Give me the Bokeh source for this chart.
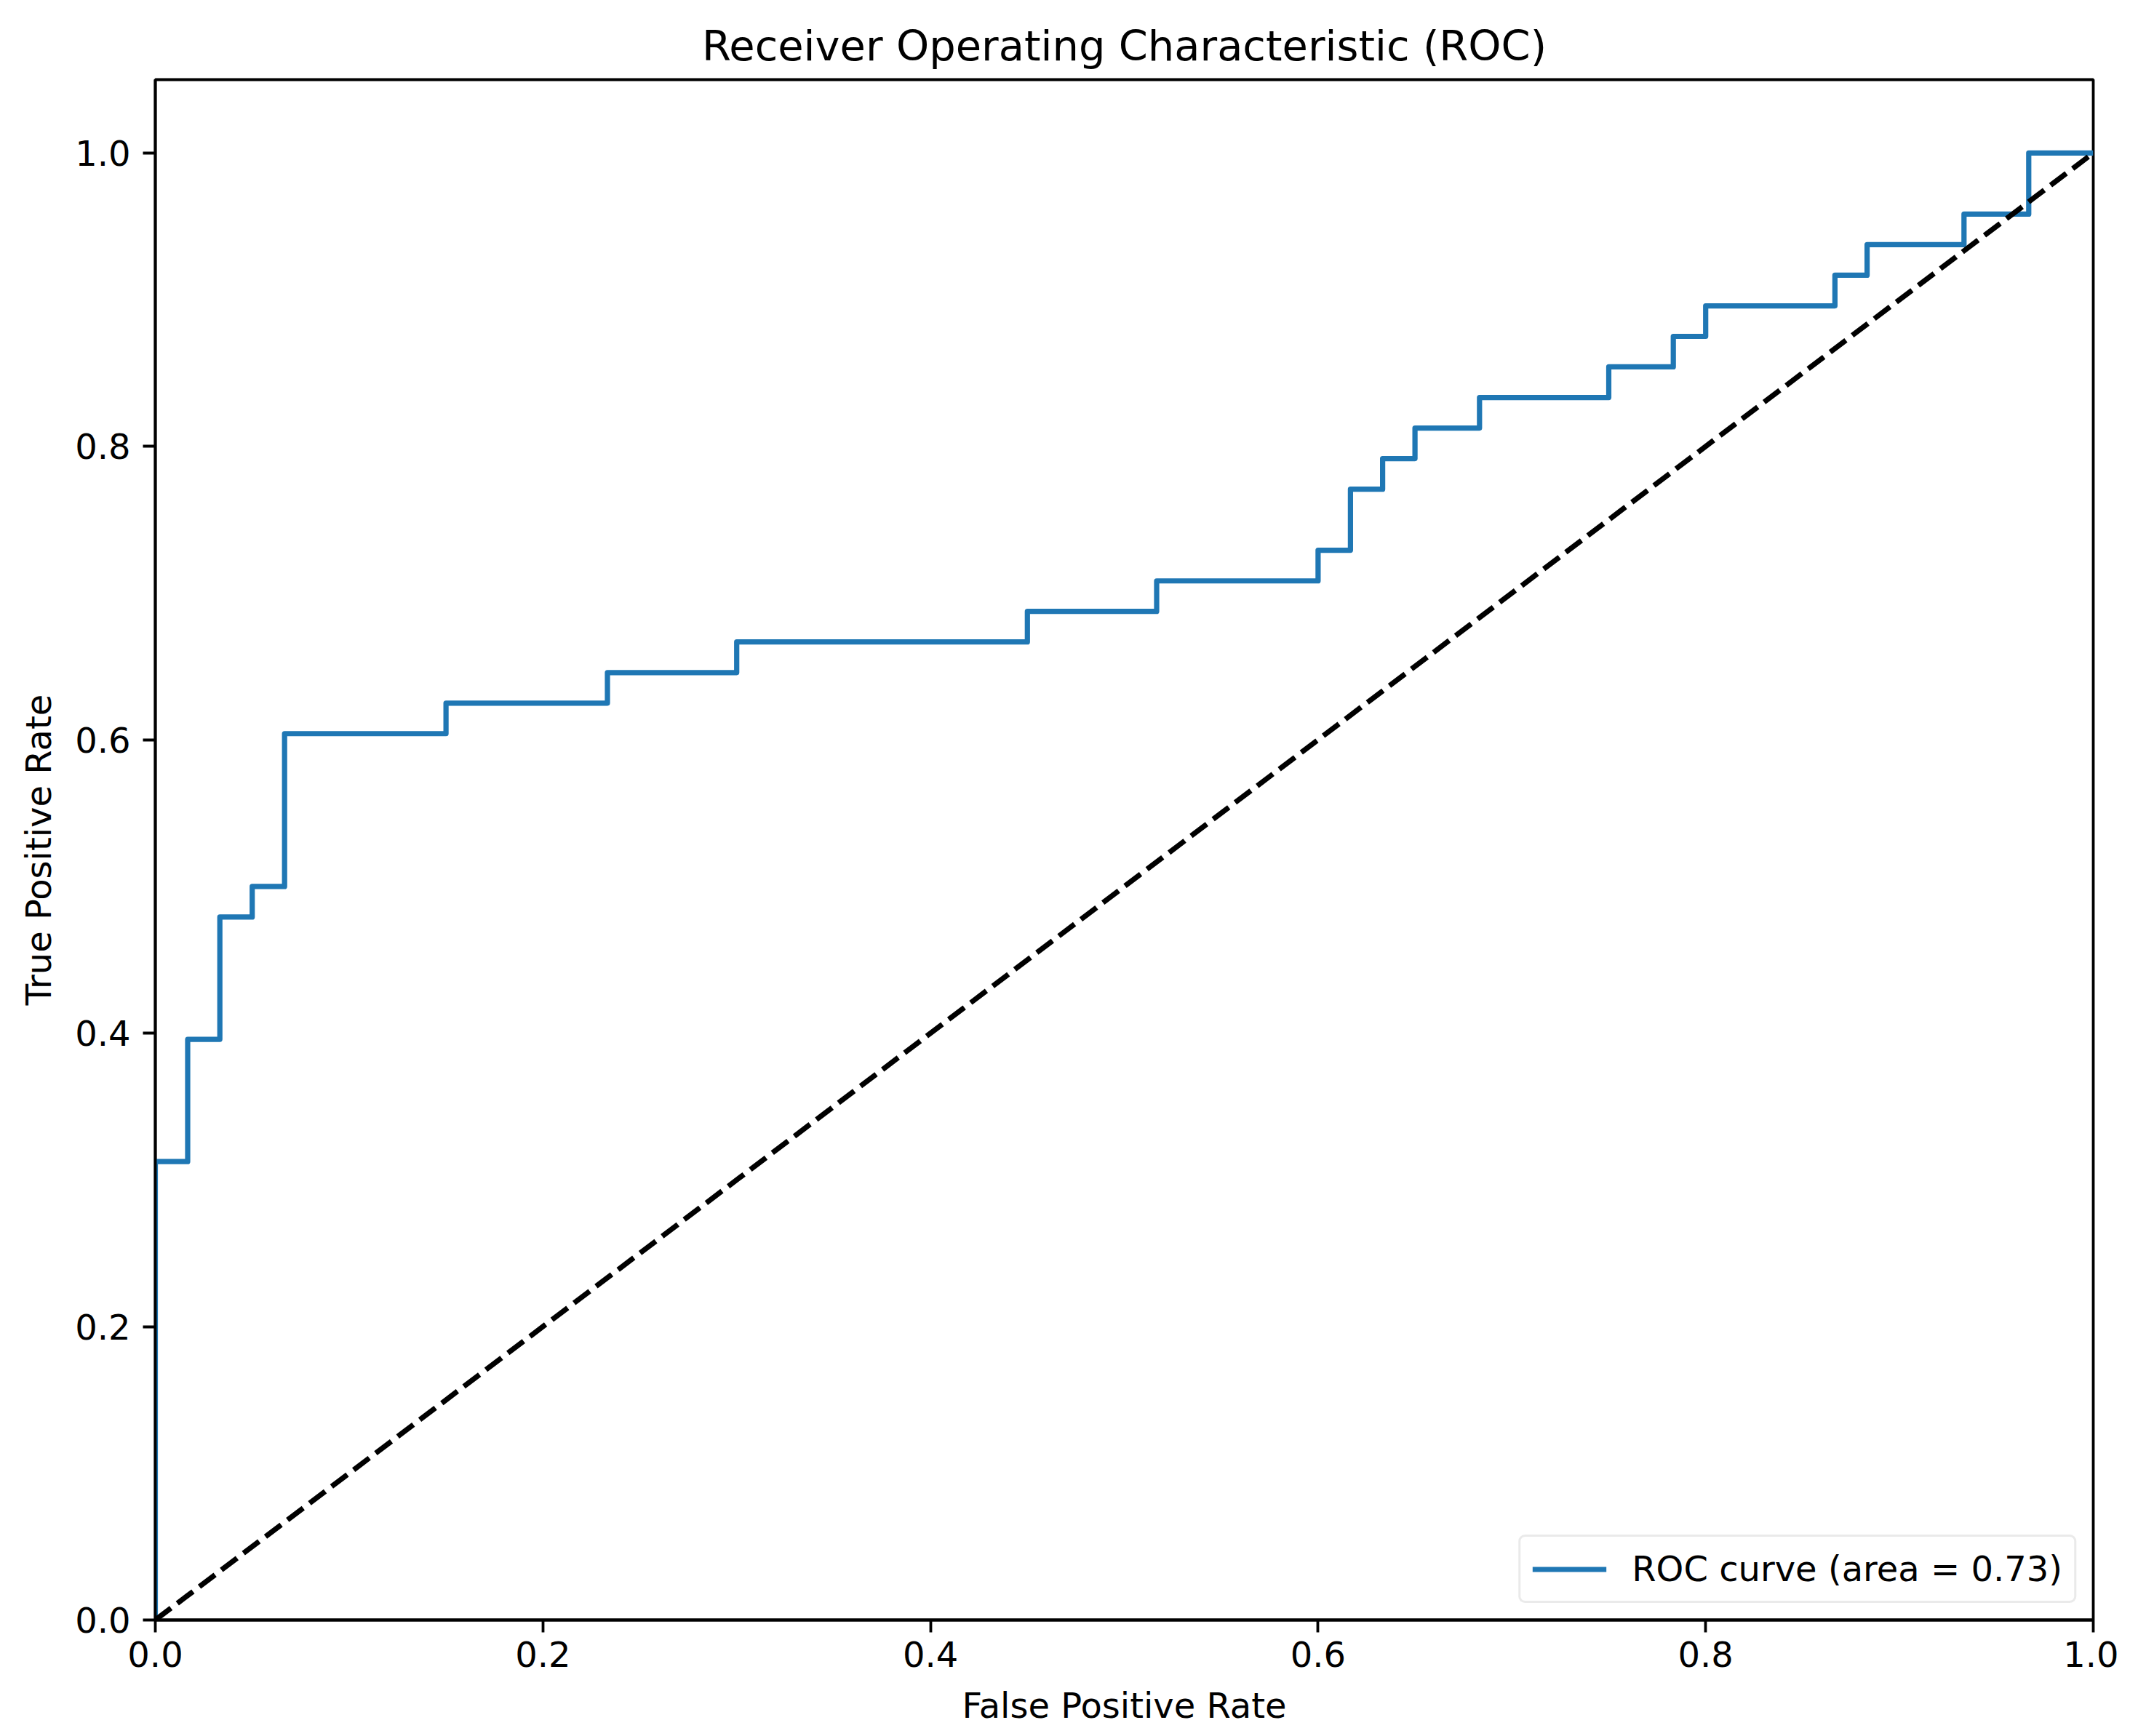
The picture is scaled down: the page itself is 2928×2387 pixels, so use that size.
import numpy as np
from bokeh.plotting import figure
from bokeh.models import Range1d, FixedTicker, PrintfTickFormatter, Legend, LegendItem
from bokeh.embed import file_html
from bokeh.resources import INLINE

# ROC curve vertices (false positive rate, true positive rate)
fpr = [0.0, 0.0, 0.0167, 0.0167, 0.0333, 0.0333, 0.05, 0.05, 0.0667, 0.0667,
       0.15, 0.15, 0.2333, 0.2333, 0.3, 0.3, 0.45, 0.45, 0.5167, 0.5167,
       0.6, 0.6, 0.6167, 0.6167, 0.6333, 0.6333, 0.65, 0.65, 0.6833, 0.6833,
       0.75, 0.75, 0.7833, 0.7833, 0.8, 0.8, 0.8667, 0.8667, 0.8833, 0.8833,
       0.9333, 0.9333, 0.9667, 0.9667, 1.0]
tpr = [0.0, 0.3125, 0.3125, 0.3958, 0.3958, 0.4792, 0.4792, 0.5, 0.5, 0.6042,
       0.6042, 0.625, 0.625, 0.6458, 0.6458, 0.6667, 0.6667, 0.6875, 0.6875, 0.7083,
       0.7083, 0.7292, 0.7292, 0.7708, 0.7708, 0.7917, 0.7917, 0.8125, 0.8125, 0.8333,
       0.8333, 0.8542, 0.8542, 0.875, 0.875, 0.8958, 0.8958, 0.9167, 0.9167, 0.9375,
       0.9375, 0.9583, 0.9583, 1.0, 1.0]
chance_x = [0.0, 1.0]
chance_y = [0.0, 1.0]
x_ticks = [0.0, 0.2, 0.4, 0.6, 0.8, 1.0]
y_ticks = [0.0, 0.2, 0.4, 0.6, 0.8, 1.0]
roc_auc = float(np.trapezoid(tpr, fpr))

FONT = "DejaVu Sans"
TICK_PX = "48px"

p = figure(
    width=2912, height=2371,
    output_backend="svg", toolbar_location=None,
    x_range=Range1d(0, 1), y_range=Range1d(0, 1.05),
    min_border_left=213, min_border_right=35,
    min_border_top=109, min_border_bottom=144,
    title="Receiver Operating Characteristic (ROC)",
)
p.frame_width = 2664
p.frame_height = 2118

p.title.align = "center"
p.title.text_font = FONT
p.title.text_font_size = "57.5px"
p.title.text_font_style = "normal"
p.title.text_color = "black"
p.title.standoff = 26

p.xgrid.visible = False
p.ygrid.visible = False
p.background_fill_color = "white"
p.border_fill_color = "white"
p.outline_line_color = "black"
p.outline_line_width = 3.8

for ax, lab, ticks in ((p.xaxis[0], "False Positive Rate", x_ticks),
                       (p.yaxis[0], "True Positive Rate", y_ticks)):
    ax.ticker = FixedTicker(ticks=ticks)
    ax.formatter = PrintfTickFormatter(format="%.1f")
    ax.axis_label = lab
    ax.axis_label_text_font = FONT
    ax.axis_label_text_font_size = TICK_PX
    ax.axis_label_text_font_style = "normal"
    ax.axis_label_text_color = "black"
    ax.major_label_text_font = FONT
    ax.major_label_text_font_size = TICK_PX
    ax.major_label_text_color = "black"
    ax.major_tick_line_width = 3.8
    ax.major_tick_line_color = "black"
    ax.major_tick_out = 17
    ax.major_tick_in = 0
    ax.minor_tick_line_color = None
    ax.axis_line_width = 3.8
    ax.axis_line_color = "black"

p.xaxis[0].major_label_standoff = 12
p.xaxis[0].axis_label_standoff = 22
p.yaxis[0].major_label_standoff = 17
p.yaxis[0].axis_label_standoff = 19

roc = p.line(fpr, tpr, line_color="#1f77b4", line_width=7.2, line_join="round")
p.line(chance_x, chance_y, line_color="black", line_width=7.2, line_dash="27 11")

legend = Legend(
    items=[LegendItem(label="ROC curve (area = %0.2f)" % roc_auc, renderers=[roc])],
    location="bottom_right",
    margin=23,
    padding=16,
    glyph_width=102,
    glyph_height=53,
    label_height=53,
    label_standoff=35,
    label_text_font=FONT,
    label_text_font_size=TICK_PX,
    label_text_color="black",
    border_line_color="#d6d6d6",
    border_line_width=3.8,
    background_fill_color="white",
    background_fill_alpha=0.8,
)
if "border_radius" in legend.properties():
    legend.border_radius = 9
p.add_layout(legend)

open("out.html", "w").write(file_html(p, INLINE))
